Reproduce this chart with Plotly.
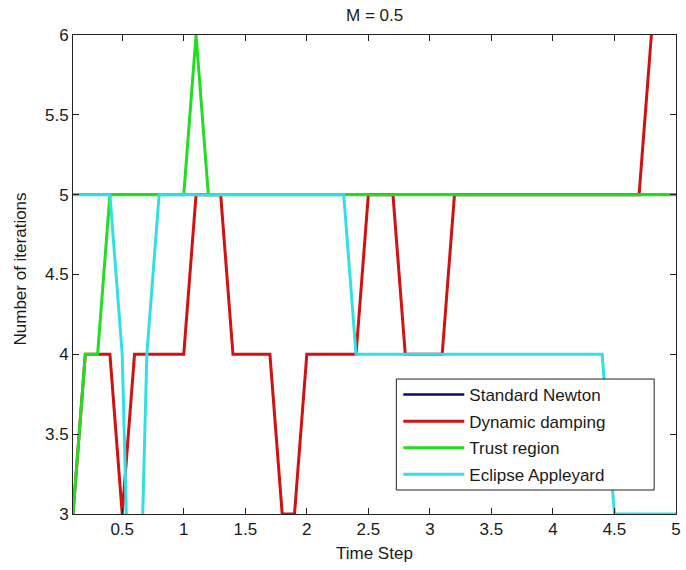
import plotly.graph_objects as go

# Time steps (s) and iteration counts per nonlinear solver
time_step = [0.1, 0.2, 0.3, 0.4, 0.5, 0.6, 0.7, 0.8, 0.9, 1.0,
             1.1, 1.2, 1.3, 1.4, 1.5, 1.6, 1.7, 1.8, 1.9, 2.0,
             2.1, 2.2, 2.3, 2.4, 2.5, 2.6, 2.7, 2.8, 2.9, 3.0,
             3.1, 3.2, 3.3, 3.4, 3.5, 3.6, 3.7, 3.8, 3.9, 4.0,
             4.1, 4.2, 4.3, 4.4, 4.5, 4.6, 4.7, 4.8, 4.9, 5.0]

standard_newton = [5, 5, 5, 5, 5, 5, 5, 5, 5, 5,
                   5, 5, 5, 5, 5, 5, 5, 5, 5, 5,
                   5, 5, 5, 5, 5, 5, 5, 5, 5, 5,
                   5, 5, 5, 5, 5, 5, 5, 5, 5, 5,
                   5, 5, 5, 5, 5, 5, 5, 5, 5, 5]

dynamic_damping = [3, 4, 4, 4, 3, 4, 4, 4, 4, 4,
                   5, 5, 5, 4, 4, 4, 4, 3, 3, 4,
                   4, 4, 4, 4, 5, 5, 5, 4, 4, 4,
                   4, 5, 5, 5, 5, 5, 5, 5, 5, 5,
                   5, 5, 5, 5, 5, 5, 5, 6, 7, 7]

trust_region = [3, 4, 4, 5, 5, 5, 5, 5, 5, 5,
                6, 5, 5, 5, 5, 5, 5, 5, 5, 5,
                5, 5, 5, 5, 5, 5, 5, 5, 5, 5,
                5, 5, 5, 5, 5, 5, 5, 5, 5, 5,
                5, 5, 5, 5, 5, 5, 5, 5, 5, 5]

eclipse_appleyard = [5, 5, 5, 5, 4, 1, 4, 5, 5, 5,
                     5, 5, 5, 5, 5, 5, 5, 5, 5, 5,
                     5, 5, 5, 4, 4, 4, 4, 4, 4, 4,
                     4, 4, 4, 4, 4, 4, 4, 4, 4, 4,
                     4, 4, 4, 4, 3, 3, 3, 3, 3, 3]

x_ticks = [0.5, 1, 1.5, 2, 2.5, 3, 3.5, 4, 4.5, 5]
y_ticks = [3, 3.5, 4, 4.5, 5, 5.5, 6]

FONT = "Liberation Sans, Arial, sans-serif"
TXT = "#1a1a1a"

series = [
    ("Standard Newton", standard_newton, "#0a0a70", 2.5),
    ("Dynamic damping", dynamic_damping, "#d01212", 3),
    ("Trust region", trust_region, "#22dd22", 3),
    ("Eclipse Appleyard", eclipse_appleyard, "#33dfe6", 3),
]

fig = go.Figure()
for name, values, color, width in series:
    fig.add_trace(go.Scatter(
        x=time_step, y=values, name=name, mode="lines", legendgroup=name,
        line=dict(color=color, width=width),
    ))

axis_common = dict(
    showgrid=False, zeroline=False, showline=True, linecolor="#222222",
    linewidth=1, mirror="ticks", ticks="inside", ticklen=6,
    tickcolor="#222222", tickfont=dict(family=FONT, size=17, color=TXT),
)

fig.update_layout(
    width=686, height=570,
    margin=dict(l=73, r=5, t=35, b=56),
    paper_bgcolor="white", plot_bgcolor="white",
    font=dict(family=FONT, size=17, color=TXT),
    showlegend=True,
    legend=dict(
        x=0.5395, y=0.2860, xanchor="left", yanchor="top",
        bgcolor="rgba(0,0,0,0)", borderwidth=0,
        font=dict(family=FONT, size=17, color=TXT),
        itemwidth=61, traceorder="grouped", tracegroupgap=1.5,
    ),
    # framed white box behind the legend entries
    shapes=[dict(type="rect", xref="paper", yref="paper",
                 x0=0.5362, x1=0.9638, y0=0.0501, y1=0.2818,
                 fillcolor="white", line=dict(color="#222222", width=1),
                 layer="above")],
    xaxis=dict(range=[0.1, 5], tickvals=x_ticks, ticktext=[f"{v:g}" for v in x_ticks],
               **axis_common),
    yaxis=dict(range=[3, 6], tickvals=y_ticks, ticktext=[f"{v:g}" for v in y_ticks],
               **axis_common),
    annotations=[
        dict(text="M = 0.5", xref="paper", yref="paper", x=0.5, y=1,
             yshift=20, xanchor="center", yanchor="middle", showarrow=False,
             font=dict(family=FONT, size=17, color=TXT)),
        dict(text="Time Step", xref="paper", yref="paper", x=0.5, y=0,
             yshift=-39, xanchor="center", yanchor="middle", showarrow=False,
             font=dict(family=FONT, size=17, color=TXT)),
        dict(text="Number of iterations", xref="paper", yref="paper", x=0, y=0.5,
             xshift=-53, yshift=5, xanchor="center", yanchor="middle", showarrow=False,
             textangle=-90, font=dict(family=FONT, size=17, color=TXT)),
    ],
)

fig.write_html("out.html")
